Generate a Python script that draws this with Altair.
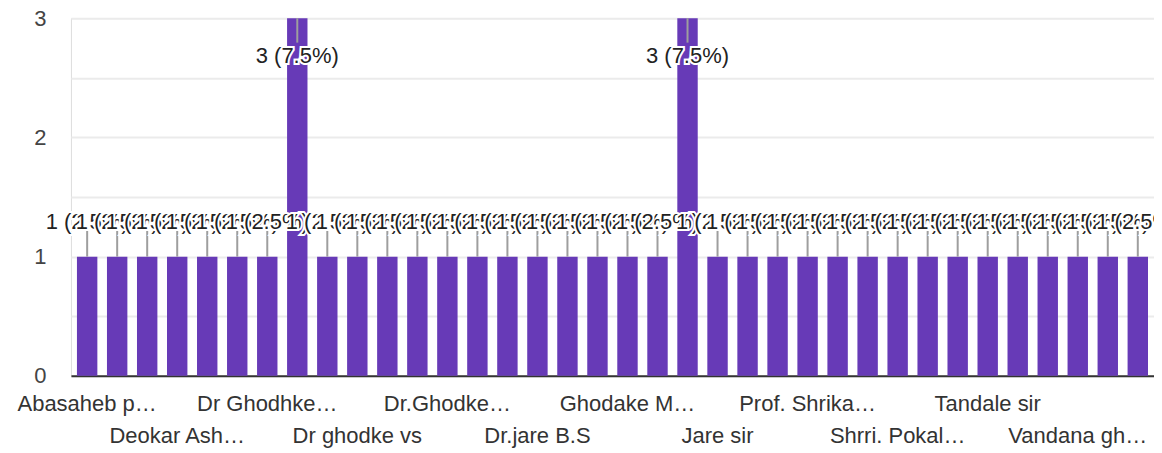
import altair as alt
import pandas as pd

names = [
    "Abasaheb p…", "Bhosale sir", "Chavan sir", "Deokar Ash…", "Dhumal sir",
    "Dr Gaikwad", "Dr Ghodhke…", "Dr Ghodke", "Dr Jare", "Dr ghodke vs",
    "Dr. Ghodke", "Dr. Jare", "Dr.Ghodke…", "Dr.Ghodke V.S", "Dr.Jare",
    "Dr.jare B.S", "Gaikwad sir", "Ghodake", "Ghodake M…", "Ghodke sir",
    "Ghodke V S", "Jare sir", "Kale sir", "Pawar sir", "Prof. Shrika…",
    "Shinde madam", "Shinde sir", "Shrri. Pokal…", "Sonawane sir", "Surve sir",
    "Tandale sir", "Thorat sir", "V.S. Ghodke", "Vandana gh…", "Wagh sir",
    "Yadav sir",
]
counts = [1, 1, 1, 1, 1, 1, 1, 3, 1, 1, 1, 1, 1, 1, 1, 1, 1, 1, 1, 1,
          3, 1, 1, 1, 1, 1, 1, 1, 1, 1, 1, 1, 1, 1, 1, 1]
y_ticks = [0, 0.5, 1, 1.5, 2, 2.5, 3]

FONT = "Liberation Sans"
TEXT = "#222222"
AXIS_TEXT = "#333333"
PURPLE = "#673ab7"
FS = 22

df = pd.DataFrame({"name": names, "count": counts, "idx": list(range(len(names)))})
n_last = len(names) - 1

x_enc = alt.X(
    "name:N",
    sort=names,
    scale=alt.Scale(domain=names, paddingInner=0.32, paddingOuter=0.2),
    axis=alt.Axis(
        title=None,
        ticks=False,
        labelAngle=0,
        labelFont=FONT,
        labelFontSize=FS,
        labelColor=AXIS_TEXT,
        labelPadding=18,
        labelLineHeight=32,
        labelOverlap=False,
        labelLimit=400,
        domainColor="#333333",
        domainWidth=2,
        labelExpr=(
            f"round(datum.index*{n_last}) % 6 == 0 ? datum.label : "
            f"(round(datum.index*{n_last}) % 6 == 3 ? ['', datum.label] : '')"
        ),
    ),
)
y_enc = alt.Y(
    "count:Q",
    scale=alt.Scale(domain=[0, 3], nice=False),
    axis=alt.Axis(
        title=None,
        values=y_ticks,
        labelExpr="datum.value % 1 == 0 ? format(datum.value, 'd') : ''",
        grid=True,
        gridColor="#ebebeb",
        gridWidth=2,
        domain=False,
        ticks=False,
        labelFont=FONT,
        labelFontSize=FS,
        labelColor="#444444",
        labelPadding=25,
        labelOverlap=False,
    ),
)

base = alt.Chart(df)

bars = base.mark_bar(color=PURPLE).encode(x=x_enc, y=y_enc)

leaders = (
    base.transform_joinaggregate(mx="max(count)")
    .transform_calculate(
        y2="datum.count < datum.mx ? datum.count + 0.245 : datum.count - 0.205"
    )
    .mark_rule(color="#9e9e9e", strokeWidth=2)
    .encode(x=x_enc, y=y_enc, y2="y2:Q")
)


def labels(test, dy):
    return (
        base.transform_joinaggregate(total="sum(count)", mx="max(count)")
        .transform_filter(test)
        .transform_calculate(
            label="datum.count + ' (' + format(datum.count / datum.total, '.1%') + ')'",
            halo="1",
            text="1",
        )
        .transform_fold(["halo", "text"], as_=["kind", "v"])
        .transform_calculate(ord="datum.idx * 2 + (datum.kind == 'text' ? 1 : 0)")
        .mark_text(font=FONT, fontSize=FS, dy=dy, baseline="middle", align="center")
        .encode(
            x=x_enc,
            y=y_enc,
            text="label:N",
            fill=alt.condition(alt.datum.kind == "halo", alt.value("white"), alt.value(TEXT)),
            stroke=alt.value("white"),
            strokeWidth=alt.condition(alt.datum.kind == "halo", alt.value(4), alt.value(0)),
            order="ord:Q",
        )
    )


small_labels = labels("datum.count < datum.mx", -35)
tall_labels = labels("datum.count >= datum.mx", 38)

chart = (
    alt.layer(bars, leaders, small_labels, tall_labels)
    .properties(
        width=1084,
        height=358,
        autosize=alt.AutoSizeParams(type="none"),
        padding={"left": 63, "top": 10, "right": 0, "bottom": 80},
    )
    .configure_view(stroke="#ebebeb", strokeWidth=2)
    .configure(background="white")
)

chart.save("out.html", embed_options={"renderer": "svg", "actions": False})
